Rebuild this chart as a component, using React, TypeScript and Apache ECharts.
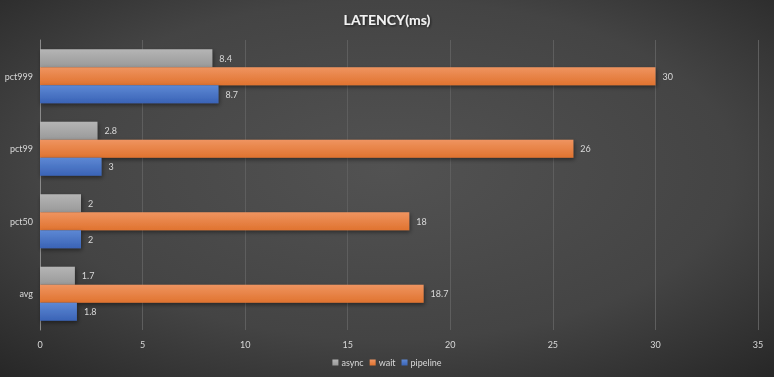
import React, { useEffect, useRef } from "react";
import * as echarts from "echarts";

const categories = ["avg", "pct50", "pct99", "pct999"];
const asyncValues = [1.7, 2, 2.8, 8.4];
const waitValues = [18.7, 18, 26, 30];
const pipelineValues = [1.8, 2, 3, 8.7];
const xTicks = { min: 0, max: 35, interval: 5 };

const labelStyle = {
  show: true,
  position: "right" as const,
  distance: 7,
  color: "#d9d9d9",
  fontSize: 9,
  fontFamily: "Lato",
};

function grad(top: string, bottom: string) {
  return new echarts.graphic.LinearGradient(0, 0, 0, 1, [
    { offset: 0, color: top },
    { offset: 1, color: bottom },
  ]);
}

export default function App() {
  const ref = useRef<HTMLDivElement>(null);
  useEffect(() => {
    if (!ref.current) return;
    const chart = echarts.init(ref.current, null, { renderer: "svg" });
    const shadow = {
      shadowColor: "rgba(0,0,0,0.45)",
      shadowBlur: 4,
      shadowOffsetX: 1,
      shadowOffsetY: 2,
    };
    chart.setOption({
      animation: false,
      backgroundColor: {
        type: "radial",
        x: 0.5,
        y: 0.45,
        r: 0.75,
        colorStops: [
          { offset: 0, color: "#525252" },
          { offset: 0.6, color: "#444444" },
          { offset: 1, color: "#262626" },
        ],
      },
      title: {
        text: "LATENCY(ms)",
        left: "center",
        top: 7,
        textStyle: {
          color: "#f2f2f2",
          fontSize: 14,
          fontWeight: "bold",
          fontFamily: "Lato",
          textShadowColor: "rgba(0,0,0,0.6)",
          textShadowBlur: 2,
          textShadowOffsetX: 1,
          textShadowOffsetY: 1,
        },
      },
      legend: {
        data: ["async", "wait", "pipeline"],
        bottom: 5,
        left: "center",
        itemWidth: 6,
        itemHeight: 6,
        itemGap: 6,
        icon: "rect",
        textStyle: { color: "#d9d9d9", fontSize: 9, fontFamily: "Lato", padding: [0, 0, 0, -2] },
      },
      grid: { left: 40, right: 16, top: 40, bottom: 47 },
      xAxis: {
        type: "value",
        min: xTicks.min,
        max: xTicks.max,
        interval: xTicks.interval,
        axisLine: { show: false },
        axisTick: { show: false },
        axisLabel: { color: "#d9d9d9", fontSize: 9, fontFamily: "Lato", margin: 10 },
        splitLine: { show: true, lineStyle: { color: "#5e5e5e", width: 1 } },
      },
      yAxis: {
        type: "category",
        data: categories,
        axisLine: { show: true, lineStyle: { color: "#8a8a8a", width: 1 } },
        axisTick: { show: false },
        axisLabel: { color: "#d9d9d9", fontSize: 9, fontFamily: "Lato", margin: 7 },
      },
      series: [
        {
          name: "async",
          type: "bar",
          data: asyncValues,
          barWidth: 18,
          barGap: "0%",
          itemStyle: { color: grad("#b5b5b5", "#999999"), ...shadow },
          label: labelStyle,
        },
        {
          name: "wait",
          type: "bar",
          data: waitValues,
          barWidth: 18,
          barGap: "0%",
          itemStyle: { color: grad("#ef9460", "#e0732f"), ...shadow },
          label: labelStyle,
        },
        {
          name: "pipeline",
          type: "bar",
          data: pipelineValues,
          barWidth: 18,
          barGap: "0%",
          itemStyle: { color: grad("#5d88d4", "#3a63b6"), ...shadow },
          label: labelStyle,
        },
      ],
    });
    return () => chart.dispose();
  }, []);
  return <div ref={ref} style={{ width: 774, height: 377, position: "fixed", left: 0, top: 0 }} />;
}
